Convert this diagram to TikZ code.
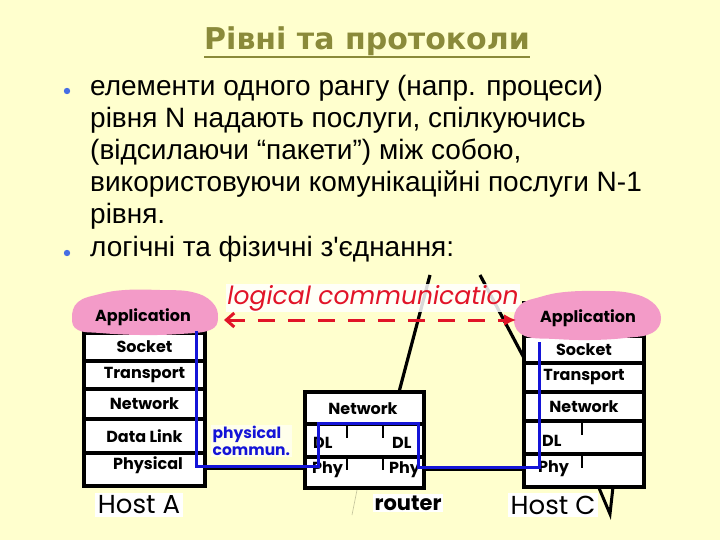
\documentclass[tikz,border=0pt]{standalone}
\usepackage{fontspec}
\setmainfont{Liberation Sans}
\newfontfamily\bodyfont{Liberation Sans}
\newfontfamily\titlefont{DejaVu Sans}
\newfontfamily\gothic{Poppins}
\usetikzlibrary{arrows.meta,calc}
\definecolor{bgyellow}{RGB}{255,255,206}
\definecolor{titleolive}{RGB}{138,138,58}
\definecolor{cloudpink}{RGB}{243,155,200}
\definecolor{linkblue}{RGB}{20,20,215}
\definecolor{logicred}{RGB}{225,20,40}
\definecolor{bulletblue}{RGB}{70,110,228}
\tikzset{
  bodyline/.style={anchor=base west, inner sep=0, font=\bodyfont\fontsize{28}{32}\selectfont},
  layer/.style={draw=black, line width=3.2pt, fill=white, inner sep=0,
    font=\gothic\bfseries\fontsize{16}{17}\selectfont},
  hostA/.style={layer, minimum width=121pt},
  hostC/.style={layer, minimum width=120pt},
  rtr/.style={layer, minimum width=119pt},
  lbl/.style={inner sep=0, font=\gothic\bfseries\fontsize{16}{17}\selectfont},
  tick/.style={line width=2.6pt, black},
  bline/.style={line width=3.2pt, black},
  cloud/.style={fill=cloudpink},
  hostlabel/.style={fill=white, inner sep=3pt, font=\gothic\fontsize{26}{26}\selectfont},
}
\begin{document}
\begin{tikzpicture}[x=1pt,y=-1pt]
\fill[bgyellow] (0,0) rectangle (720,540);
\useasboundingbox (0,0) rectangle (720,540);

% title
\node[anchor=base, inner sep=0, text=titleolive,
  font=\titlefont\bfseries\fontsize{30}{30}\selectfont] (title) at (367,49.5) {Рівні та протоколи};
\draw[titleolive, line width=2.5pt] ($(title.base west)+(0,7.5)$) -- ($(title.base east)+(0,7.5)$);

% bullets and text
\fill[bulletblue] (67,91) circle (3.2);
\fill[bulletblue] (67,253) circle (3.2);
\node[bodyline] (p1) at (90,96) {елементи одного рангу (напр. процеси)};
\node[bodyline] (p2) at (90,128) {рівня N надають послуги, спілкуючись};
\node[bodyline] (p3) at (90,160) {(відсилаючи “пакети”) між собою,};
\node[bodyline] (p4) at (90,192) {використовуючи комунікаційні послуги N-1};
\node[bodyline] (p5) at (90,224) {рівня.};
\node[bodyline] (p6) at (90,256) {логічні та фізичні з'єднання:};

% diagonal black lines (behind the logical label)
\draw[bline] (430,275) -- (399,392);
\draw[bline] (480,275) -- (524,358);
\draw[titleolive!50, line width=0.6pt] (357,490) -- (352,515);

% logical communication label
\node[fill=white, fill opacity=0.85, text opacity=1, inner sep=1pt, text=logicred,
  font=\gothic\itshape\fontsize{25}{26}\selectfont] (logic) at (373,298) {logical communication};

% Host A
\node[hostA, minimum height=31pt] (aApp) at (144.5,317.5) {};
\node[hostA, minimum height=28pt] (aSock) at (144.5,347) {Socket};
\node[hostA, minimum height=28pt] (aTrans) at (144.5,375) {Transport};
\node[hostA, minimum height=30pt] (aNet) at (144.5,404) {Network};
\node[hostA, minimum height=34pt] (aDL) at (144.5,436) {Data Link};
\node[hostA, minimum height=33pt] (aPhy) at (144.5,469.5) {};
\node[lbl] (aPhyT) at (148,465) {Physical};
\fill[cloud] plot[smooth cycle, tension=0.7] coordinates {(72,318) (78,302) (100,294) (125,290) (160,290) (192,292) (212,302) (218,318) (210,330) (180,334) (140,335) (100,333) (78,330)};
\node[lbl] (aAppT) at (143,317) {Application};
\node[hostlabel] (hostAT) at (139,505) {Host A};

% router
\node[rtr, minimum height=32pt] (rNet) at (364.5,408) {};
\node[lbl] (rNetT) at (363,409) {Network};
\node[rtr, minimum height=33pt] (rDL) at (364.5,440.5) {};
\node[rtr, minimum height=31pt] (rPhy) at (364.5,472.5) {};
\node[lbl, anchor=west] (rDL1) at (313,443) {DL};
\node[lbl, anchor=west] (rDL2) at (392,443) {DL};
\node[lbl, anchor=west] (rPhy1) at (312,470) {Phy};
\node[lbl, anchor=west] (rPhy2) at (389,470) {Phy};
\draw[tick] (347,425) -- (347,438);
\draw[tick] (383,425) -- (383,438);
\draw[tick] (347,457) -- (347,470);
\draw[tick] (383,457) -- (383,470);
\node[fill=white, inner sep=2pt, font=\gothic\bfseries\fontsize{21}{22}\selectfont] (routerT) at (408,503) {router};

% Host C
\node[hostC, minimum height=33pt] (cApp) at (584,319.5) {};
\node[hostC, minimum height=27pt] (cSock) at (584,349.5) {Socket};
\node[hostC, minimum height=29pt] (cTrans) at (584,377.5) {Transport};
\node[hostC, minimum height=29pt] (cNet) at (584,406.5) {Network};
\node[hostC, minimum height=33pt] (cDL) at (584,437.5) {};
\node[hostC, minimum height=33pt] (cPhy) at (584,470.5) {};
\node[lbl, anchor=west] (cDLT) at (542,441) {DL};
\node[lbl, anchor=west] (cPhyT) at (538,469) {Phy};
\draw[tick] (582,422) -- (582,435);
\draw[tick] (582,455) -- (582,468);
\fill[cloud] plot[smooth cycle, tension=0.7] coordinates {(514,322) (520,305) (540,297) (565,292) (600,291) (630,293) (652,302) (661,318) (652,333) (625,338) (590,340) (555,339) (525,336)};
\node[lbl] (cAppT) at (588,318) {Application};
\node[hostlabel] (hostCT) at (553,505) {Host C};
\draw[line width=3pt, line join=miter] (599,488) -- (610,514) -- (613,487);

% physical links (black)
\draw[bline] (aPhy.east |- 0,468.5) -- (rPhy.west |- 0,468.5);
\draw[bline] (rPhy.east |- 0,469.5) -- (cPhy.west |- 0,469.5);

% logical arrow
\draw[logicred, line width=3pt, dash pattern=on 17pt off 13pt,
  {Straight Barb[length=8pt,width=14pt]}-{Latex[length=12pt,width=12pt]}] (224,320) -- (516,320);

% physical communication path (blue)
\draw[linkblue, line width=3pt, line join=miter]
  (196,331) -- (196,466) -- (318,466) -- (318,423) -- (418,423) -- (418,467) -- (539,467) -- (539,342);
\node[anchor=west, align=left, fill=white, fill opacity=0.6, text opacity=1, inner sep=1.5pt,
  text=linkblue, font=\gothic\bfseries\fontsize{15.5}{17}\selectfont] (physT) at (211,441) {physical\\commun.};
\end{tikzpicture}
\end{document}
